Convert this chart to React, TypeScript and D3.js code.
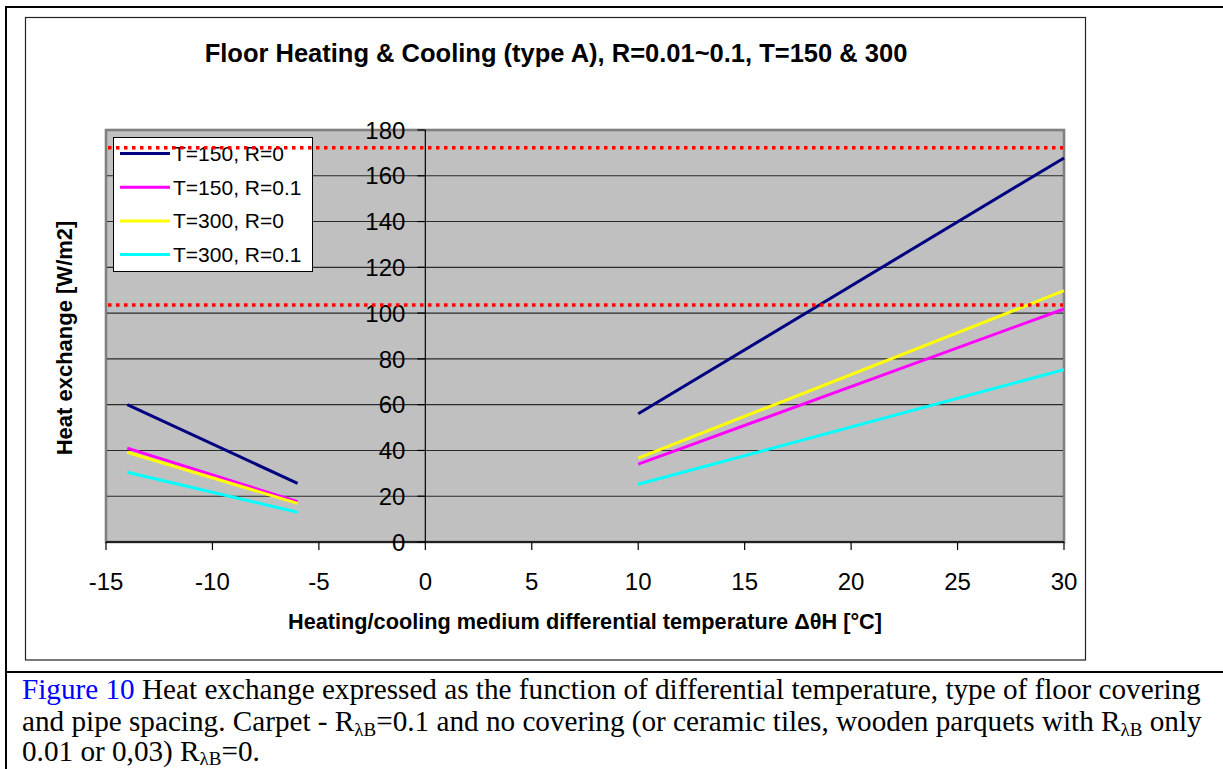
import React from "react";
import * as d3 from "d3";

const chartTitle = "Floor Heating & Cooling (type A), R=0.01~0.1, T=150 & 300";
const xAxisTitle = "Heating/cooling medium differential temperature ΔθH [°C]";
const yAxisTitle = "Heat exchange [W/m2]";

const xTicks = [-15, -10, -5, 0, 5, 10, 15, 20, 25, 30];
const yTicks = [0, 20, 40, 60, 80, 100, 120, 140, 160, 180];

const seriesNames = ["T=150, R=0", "T=150, R=0.1", "T=300, R=0", "T=300, R=0.1"];
const seriesColors = ["#000080", "#FF00FF", "#FFFF00", "#00FFFF"];

const coolingX = [-14, -6];
const heatingX = [10, 30];
const coolingValues = [
  [60, 25.6],
  [41, 17.6],
  [39.2, 16.9],
  [30.5, 13],
];
const heatingValues = [
  [56, 167.8],
  [34, 101.8],
  [36.6, 109.8],
  [25.2, 75.3],
];
const refLevels = [172.2, 103.5];

const W = 1223;
const H = 769;
const plot = { left: 106, right: 1064, top: 130, bottom: 542 };

export default function App() {
  const x = d3.scaleLinear().domain([-15, 30]).range([plot.left, plot.right]);
  const y = d3.scaleLinear().domain([0, 180]).range([plot.bottom, plot.top]);
  const line = d3
    .line<[number, number]>()
    .x((d) => x(d[0]))
    .y((d) => y(d[1]));

  const sans = "'Liberation Sans', Arial, sans-serif";
  const serif = "'Liberation Serif', 'Times New Roman', serif";

  const legend = { x: 113.5, y: 137.5, w: 199, h: 134, rowH: 33.7 };

  return (
    <svg
      width={W}
      height={H}
      style={{ position: "absolute", left: 0, top: 0, background: "#fff" }}
      fontFamily={sans}
    >
      {/* outer frame */}
      <line x1={6} y1={7} x2={W} y2={7} stroke="#000" strokeWidth={2} />
      <line x1={6} y1={6} x2={6} y2={H} stroke="#000" strokeWidth={2} />
      <line x1={6} y1={672} x2={W} y2={672} stroke="#000" strokeWidth={2} />

      {/* chart area */}
      <rect x={25.5} y={17.5} width={1060} height={642.5} fill="#fff" stroke="#222" strokeWidth={1.2} />

      {/* title */}
      <text x={556} y={62} textAnchor="middle" fontWeight="bold" fontSize={25.5}>
        {chartTitle}
      </text>

      {/* plot area */}
      <rect
        x={plot.left}
        y={plot.top}
        width={plot.right - plot.left}
        height={plot.bottom - plot.top}
        fill="#C0C0C0"
        stroke="#808080"
        strokeWidth={2.6}
      />
      {/* gridlines */}
      {yTicks.slice(1, -1).map((t) => (
        <line key={t} x1={plot.left + 1} x2={plot.right - 1} y1={y(t)} y2={y(t)} stroke="#2a2a2a" strokeWidth={1.1} />
      ))}
      {/* x axis */}
      <line x1={plot.left} x2={plot.right} y1={plot.bottom} y2={plot.bottom} stroke="#000" strokeWidth={1.3} />
      {xTicks.map((t) => (
        <g key={t}>
          <line x1={x(t)} x2={x(t)} y1={plot.bottom} y2={plot.bottom + 8} stroke="#000" strokeWidth={1.2} />
          <text x={x(t)} y={590} textAnchor="middle" fontSize={24}>
            {t}
          </text>
        </g>
      ))}
      {/* y axis at x=0 */}
      <line x1={x(0)} x2={x(0)} y1={plot.top} y2={plot.bottom} stroke="#000" strokeWidth={1.2} />
      {yTicks.map((t) => (
        <g key={t}>
          <line x1={x(0) - 8} x2={x(0)} y1={y(t)} y2={y(t)} stroke="#000" strokeWidth={1.2} />
          <text x={x(0) - 20} y={y(t)} dy="0.36em" textAnchor="end" fontSize={24}>
            {t}
          </text>
        </g>
      ))}

      {/* series */}
      {seriesNames.map((name, i) => (
        <g key={name}>
          <path
            d={line(coolingX.map((v, j) => [v, coolingValues[i][j]]) as [number, number][]) || ""}
            stroke={seriesColors[i]}
            strokeWidth={3}
            fill="none"
          />
          <path
            d={line(heatingX.map((v, j) => [v, heatingValues[i][j]]) as [number, number][]) || ""}
            stroke={seriesColors[i]}
            strokeWidth={3}
            fill="none"
          />
        </g>
      ))}

      {/* legend */}
      <rect x={legend.x} y={legend.y} width={legend.w} height={legend.h} fill="#fff" stroke="#000" strokeWidth={1} />
      {seriesNames.map((name, i) => {
        const cy = legend.y + 16 + i * legend.rowH;
        return (
          <g key={name}>
            <line x1={120} x2={170} y1={cy} y2={cy} stroke={seriesColors[i]} strokeWidth={3} />
            <text x={173} y={cy} dy="0.36em" fontSize={21}>
              {name}
            </text>
          </g>
        );
      })}

      {/* reference dotted lines */}
      {refLevels.map((v) => (
        <line
          key={v}
          x1={plot.left + 2}
          x2={plot.right - 1}
          y1={y(v)}
          y2={y(v)}
          stroke="#FF0000"
          strokeWidth={3.5}
          strokeDasharray="3.5 4.5"
        />
      ))}

      {/* axis titles */}
      <text x={585} y={629} textAnchor="middle" fontWeight="bold" fontSize={21.7}>
        {xAxisTitle}
      </text>
      <text
        transform={`translate(72, 338) rotate(-90)`}
        textAnchor="middle"
        fontWeight="bold"
        fontSize={22}
      >
        {yAxisTitle}
      </text>

      {/* caption */}
      <g fontFamily={serif} fontSize={29.2} fill="#000">
        <text x={22} y={699}>
          <tspan fill="#0000FF">Figure 10</tspan>
          <tspan> Heat exchange expressed as the function of differential temperature, type of floor covering</tspan>
        </text>
        <text x={22} y={731}>
          <tspan>and pipe spacing. Carpet - R</tspan>
          <tspan fontSize={19} dy={5}>λB</tspan>
          <tspan dy={-5}>=0.1 and no covering (or ceramic tiles, wooden parquets with R</tspan>
          <tspan fontSize={19} dy={5}>λB</tspan>
          <tspan dy={-5}> only</tspan>
        </text>
        <text x={22} y={761}>
          <tspan>0.01 or 0,03) R</tspan>
          <tspan fontSize={19} dy={4}>λB</tspan>
          <tspan dy={-4}>=0.</tspan>
        </text>
      </g>
    </svg>
  );
}
